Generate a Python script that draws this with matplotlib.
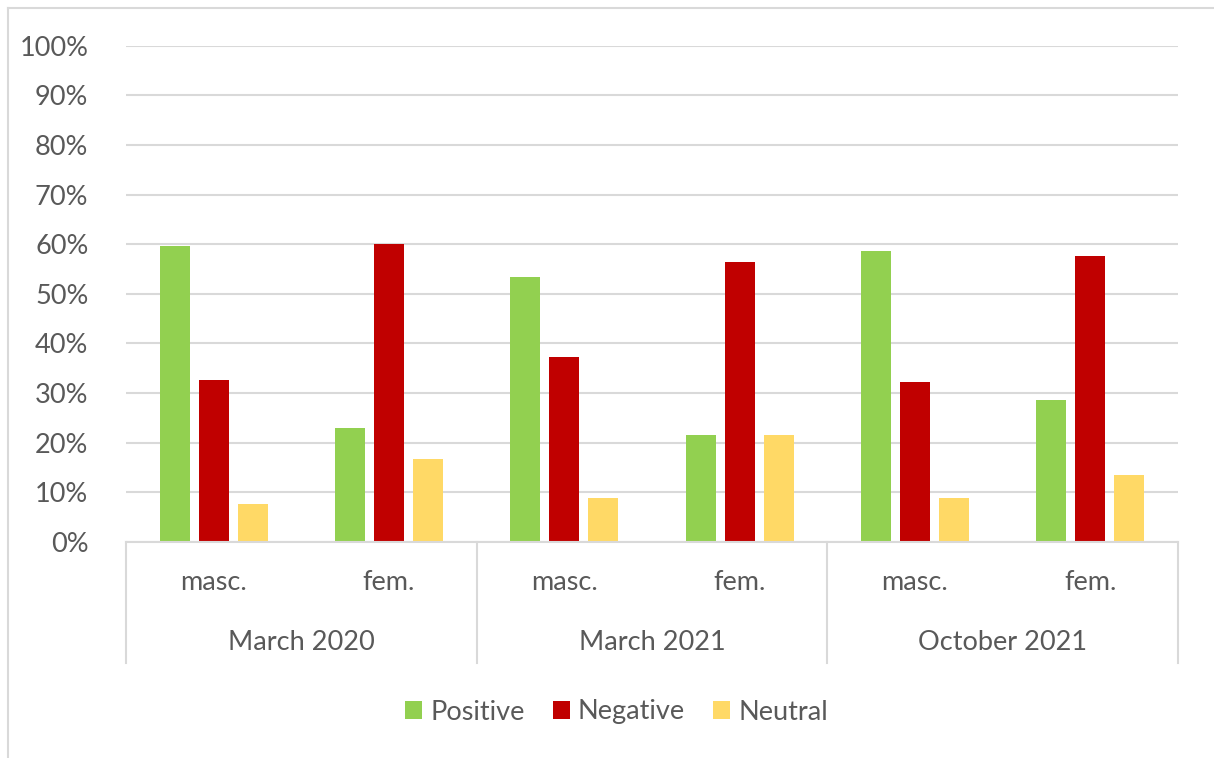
import matplotlib.pyplot as plt
from matplotlib.lines import Line2D
from matplotlib.patches import Patch
from matplotlib.ticker import FuncFormatter

# Sentiment shares (%) by gender for each survey wave
periods = ["March 2020", "March 2021", "October 2021"]
genders = ["masc.", "fem."]
series_names = ["Positive", "Negative", "Neutral"]
positive = [59.6, 23.0, 53.4, 21.6, 58.7, 28.6]
negative = [32.7, 60.0, 37.2, 56.5, 32.3, 57.6]
neutral = [7.6, 16.8, 8.9, 21.6, 8.9, 13.4]
colors = ["#92D050", "#C00000", "#FFD966"]

W, H = 1214, 758
fig = plt.figure(figsize=(W / 100, H / 100), dpi=100)
font = "Lato"
text_color = "#595959"
grid_color = "#D9D9D9"

# Plot area in pixel coordinates
left_px, right_px, top_px, bottom_px = 126, 1178, 45.7, 542
ax = fig.add_axes([left_px / W, 1 - bottom_px / H,
                   (right_px - left_px) / W, (bottom_px - top_px) / H])

n = len(periods) * len(genders)
x = list(range(n))
bar_w = 0.171
step = 0.222
for i, (vals, col) in enumerate(zip([positive, negative, neutral], colors)):
    ax.bar([xi + (i - 1) * step for xi in x], vals, width=bar_w, color=col,
           zorder=3, linewidth=0)

ax.set_xlim(-0.5, n - 0.5)
ax.set_ylim(0, 100)
ax.set_yticks(range(0, 101, 10))
ax.yaxis.set_major_formatter(FuncFormatter(lambda v, p: f"{int(v)}%"))
ax.tick_params(axis="y", length=0, pad=27, labelsize=19.5, labelcolor=text_color)
for lbl in ax.get_yticklabels():
    lbl.set_fontfamily(font)
ax.set_xticks([])
ax.grid(axis="y", color=grid_color, linewidth=1.5, zorder=0)
for s in ["top", "right", "left"]:
    ax.spines[s].set_visible(False)
ax.spines["bottom"].set_color(grid_color)
ax.spines["bottom"].set_linewidth(1.5)
ax.spines["bottom"].set_zorder(4)

# Two-level category axis below the plot
trans = ax.get_xaxis_transform()
sep_bottom = -(663 - bottom_px) / (bottom_px - top_px)
for k in range(len(periods) + 1):
    xs = -0.5 + k * len(genders)
    ax.add_line(Line2D([xs, xs], [0, sep_bottom], transform=trans,
                       color=grid_color, linewidth=1.5, clip_on=False))
gender_y = -(583 - bottom_px) / (bottom_px - top_px)
period_y = -(642 - bottom_px) / (bottom_px - top_px)
for xi in x:
    ax.text(xi, gender_y, genders[xi % len(genders)], transform=trans,
            ha="center", va="center", fontsize=19.5, color=text_color,
            family=font)
for k, p in enumerate(periods):
    ax.text(k * len(genders) + 0.5, period_y, p, transform=trans,
            ha="center", va="center", fontsize=19.5, color=text_color,
            family=font)

# Legend
handles = [Patch(facecolor=c, edgecolor="none") for c in colors]
fig.legend(handles, series_names, loc="center", bbox_to_anchor=(0.508, 1 - 712 / H),
           ncol=3, frameon=False, handlelength=0.62, handleheight=0.62,
           handletextpad=0.3, columnspacing=1.05,
           prop={"family": font, "size": 19.5}, labelcolor=text_color)

# Chart frame (top and left edges)
fig.add_artist(Line2D([8 / W, 1], [1 - 7.5 / H, 1 - 7.5 / H],
                      transform=fig.transFigure, color=grid_color, linewidth=1.5))
fig.add_artist(Line2D([8 / W, 8 / W], [0, 1 - 7.5 / H],
                      transform=fig.transFigure, color=grid_color, linewidth=1.5))

fig.savefig("out.png", dpi=100, facecolor="white")
